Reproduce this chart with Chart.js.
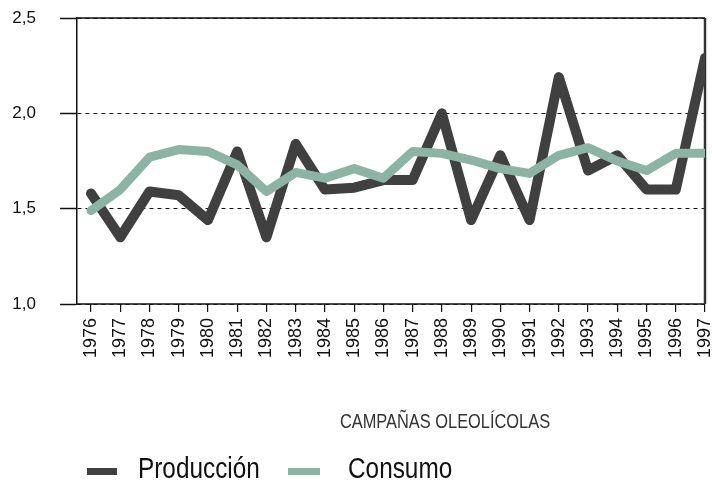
<!DOCTYPE html>
<html>
<head>
<meta charset="utf-8">
<script src="https://cdn.jsdelivr.net/npm/chart.js@4/dist/chart.umd.min.js"></script>
<style>
  html, body { margin: 0; padding: 0; background: #fff; }
  #wrap { width: 712px; height: 482px; position: relative; }
</style>
</head>
<body>
<div id="wrap"><canvas id="c" width="712" height="482"></canvas></div>
<script>
// ---- data ----
const years = [1976,1977,1978,1979,1980,1981,1982,1983,1984,1985,1986,1987,1988,1989,1990,1991,1992,1993,1994,1995,1996,1997];
const produccion = [1.58,1.35,1.59,1.57,1.44,1.80,1.35,1.84,1.60,1.61,1.65,1.65,2.00,1.44,1.78,1.44,2.19,1.70,1.78,1.60,1.60,2.29];
const consumo    = [1.49,1.60,1.77,1.81,1.80,1.73,1.59,1.69,1.66,1.71,1.66,1.80,1.79,1.755,1.71,1.685,1.78,1.82,1.75,1.70,1.79,1.79];
const yTicks = [1.0, 1.5, 2.0, 2.5];
const seriesNames = ['Producción', 'Consumo'];
const axisTitle = 'CAMPAÑAS OLEOLÍCOLAS';

const colProd = '#404040';
const colCons = '#8cb4a4';

function narrowText(ctx, text, x, y, sx, align) {
  ctx.save();
  const w = ctx.measureText(text).width * sx;
  let left = x;
  if (align === 'center') left = x - w / 2;
  ctx.translate(left, y);
  ctx.scale(sx, 1);
  ctx.textAlign = 'left';
  ctx.fillText(text, 0, 0);
  ctx.restore();
}

const framePlugin = {
  id: 'frame',
  beforeDatasetsDraw(chart) {
    const {ctx, chartArea: a} = chart;
    ctx.save();
    ctx.strokeStyle = '#111';
    ctx.lineWidth = 1.5;
    ctx.beginPath();
    ctx.moveTo(a.left, a.top); ctx.lineTo(a.right, a.top);
    ctx.moveTo(a.left, a.bottom); ctx.lineTo(a.right, a.bottom);
    ctx.stroke();
    ctx.strokeStyle = '#333';
    ctx.lineWidth = 2.5;
    ctx.beginPath();
    ctx.moveTo(a.right, a.top); ctx.lineTo(a.right, a.bottom);
    ctx.stroke();
    ctx.restore();
  },
  afterDraw(chart) {
    const {ctx} = chart;
    ctx.save();
    ctx.fillStyle = '#333';
    ctx.textBaseline = 'alphabetic';
    ctx.font = '20px "Liberation Sans", Arial, sans-serif';
    narrowText(ctx, axisTitle, 445, 428, 0.82, 'center');
    // legend
    const items = [
      {x: 87, w: 30, color: colProd, tx: 138, label: chart.data.datasets[0].label},
      {x: 288, w: 32, color: colCons, tx: 348, label: chart.data.datasets[1].label}
    ];
    ctx.font = '29px "Liberation Sans", Arial, sans-serif';
    items.forEach(it => {
      ctx.fillStyle = it.color;
      ctx.fillRect(it.x, 468, it.w, 7);
      ctx.fillStyle = '#111';
      narrowText(ctx, it.label, it.tx, 478, 0.84, 'left');
    });
    ctx.restore();
  }
};

new Chart(document.getElementById('c'), {
  type: 'line',
  data: {
    datasets: [
      {
        label: seriesNames[0],
        data: years.map((y, i) => ({x: y, y: produccion[i]})),
        borderColor: colProd,
        backgroundColor: colProd,
        borderWidth: 10,
        pointRadius: 0,
        tension: 0,
        borderJoinStyle: 'round',
        borderCapStyle: 'round',
        order: 2
      },
      {
        label: seriesNames[1],
        data: years.map((y, i) => ({x: y, y: consumo[i]})),
        borderColor: colCons,
        backgroundColor: colCons,
        borderWidth: 9,
        pointRadius: 0,
        tension: 0,
        borderJoinStyle: 'round',
        borderCapStyle: 'round',
        order: 1
      }
    ]
  },
  options: {
    responsive: false,
    animation: false,
    devicePixelRatio: 1,
    layout: { padding: { top: 18, right: 7, bottom: 0, left: 0 } },
    plugins: {
      legend: { display: false },
      tooltip: { enabled: false },
      title: { display: false }
    },
    scales: {
      x: {
        type: 'linear',
        min: 1975.52,
        max: 1997,
        afterBuildTicks(scale) { scale.ticks = years.map(v => ({value: v})); },
        afterFit(scale) {
          scale.height = 178;
          scale.paddingLeft = 0; scale.paddingRight = 0;
          scale.paddingTop = 0; scale.paddingBottom = 0;
        },
        grid: { display: true, drawOnChartArea: false, drawTicks: true, tickLength: 8, color: '#111', lineWidth: 1.2 },
        border: { display: false },
        ticks: {
          autoSkip: false,
          maxRotation: 90,
          minRotation: 90,
          padding: 6,
          color: '#111',
          font: { family: '"Liberation Sans", Arial, sans-serif', size: 18 },
          callback: v => String(v)
        }
      },
      y: {
        min: 1.0,
        max: 2.5,
        afterBuildTicks(scale) { scale.ticks = yTicks.map(v => ({value: v})); },
        afterFit(scale) {
          scale.width = 77;
          scale.paddingLeft = 0; scale.paddingRight = 0;
          scale.paddingTop = 0; scale.paddingBottom = 0;
        },
        grid: { display: true, drawOnChartArea: true, drawTicks: true, tickLength: 17, color: '#111', lineWidth: 1, tickWidth: 1.5 },
        border: { display: true, color: '#111', width: 1.5, dash: [4, 4] },
        ticks: {
          padding: 24,
          color: '#111',
          font: { family: '"Liberation Sans", Arial, sans-serif', size: 17 },
          callback: v => v.toFixed(1).replace('.', ',')
        }
      }
    }
  },
  plugins: [framePlugin]
});
</script>
</body>
</html>
